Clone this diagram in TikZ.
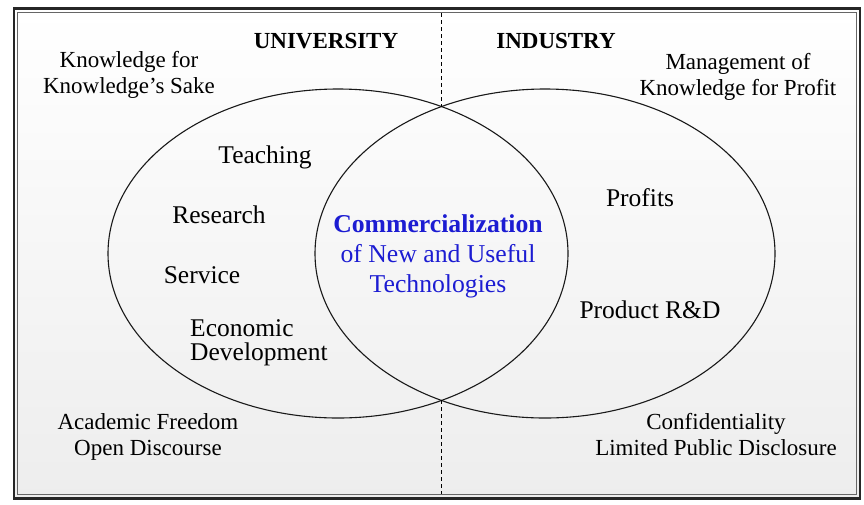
\documentclass[tikz,border=0pt]{standalone}
\usepackage{fontspec}
\setmainfont{Liberation Serif}
\usetikzlibrary{shapes.geometric}
\definecolor{commblue}{RGB}{28,28,210}
\begin{document}
\begin{tikzpicture}[x=1pt,y=-1pt,
  lbl/.style={inner sep=0pt, anchor=base, font=\fontsize{25.5}{23.5}\selectfont},
  corner/.style={inner sep=0pt, anchor=base, align=center, font=\fontsize{23}{25.5}\selectfont},
  head/.style={inner sep=0pt, anchor=base, font=\fontsize{23}{25}\selectfont\bfseries},
  centre/.style={inner sep=0pt, anchor=base, align=center, text=commblue, font=\fontsize{25.7}{30}\selectfont},
  setshape/.style={draw=black!90, ellipse, line width=1.1pt, minimum width=460pt, minimum height=329pt, inner sep=0pt},
  divider/.style={dash pattern=on 4pt off 3pt, line width=0.8pt}]
\useasboundingbox (0,0) rectangle (864,504);
\fill[white] (0,0) rectangle (864,504);
\shade[top color=white, bottom color=black!7] (14.2,8.7) rectangle (860,498.5);
\draw[line width=2.5pt, black!85] (14.2,8.7) rectangle (860,498.5);
\draw[line width=0.8pt, black!60] (17,12.3) rectangle (856.5,494.5);
% sets
\node[setshape] (uni) at (338,253.5) {};
\node[setshape] (ind) at (545,253.5) {};
\coordinate (itop) at (441.5,106.6);
\coordinate (ibot) at (441.5,400.4);
\coordinate (dtop) at (441.5,13);
\coordinate (dbot) at (441.5,494);
\draw[divider] (dtop) -- (itop);
\draw[divider] (ibot) -- (dbot);
% headings
\node[head] (univ) at (326,48) {UNIVERSITY};
\node[head] (indu) at (556,48) {INDUSTRY};
% corners (base = last line)
\node[corner] (kks) at (129,93) {Knowledge for\\Knowledge’s Sake};
\node[corner] (mkp) at (738,95) {Management of\\Knowledge for Profit};
\node[corner] (afod) at (148,455) {Academic Freedom\\Open Discourse};
\node[corner] (clpd) at (716,455) {Confidentiality\\Limited Public Disclosure};
% university items
\node[lbl] (teach) at (265,163) {Teaching};
\node[lbl] (res) at (219,223) {Research};
\node[lbl] (serv) at (202,283) {Service};
\node[lbl, anchor=base west, align=left] (econ) at (190,360) {Economic\\Development};
% industry items
\node[lbl] (prof) at (640,206) {Profits};
\node[lbl] (prd) at (650,318) {Product R\&D};
% centre
\node[centre] (comm) at (438,292) {\textbf{Commercialization}\\of New and Useful\\Technologies};
\end{tikzpicture}
\end{document}
